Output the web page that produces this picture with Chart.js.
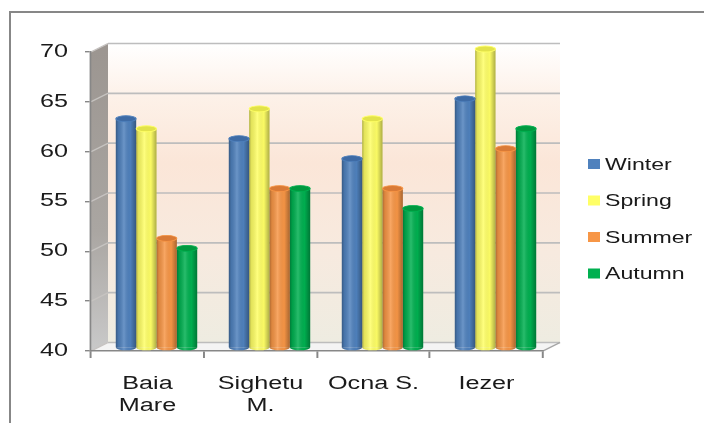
<!DOCTYPE html>
<html>
<head>
<meta charset="utf-8">
<script src="https://cdn.jsdelivr.net/npm/chart.js@4/dist/chart.umd.min.js"></script>
<style>
  html, body { margin: 0; padding: 0; background: #ffffff; overflow: hidden; }
  canvas { display: block; }
</style>
</head>
<body>
<canvas id="chart" width="704" height="423"></canvas>
<script>
// Seasonal values per station
const categories = [["Baia", "Mare"], ["Sighetu", "M."], "Ocna S.", "Iezer"];
const seriesNames = ["Winter", "Spring", "Summer", "Autumn"];
const winter = [63, 61, 59, 65];
const spring = [62, 64, 63, 70];
const summer = [51, 56, 56, 60];
const autumn = [50, 56, 54, 62];
const yMin = 40, yMax = 70, yStep = 5;

const seriesColors = ["#4f81bd", "#ffff66", "#f79646", "#00b050"];
const topColors = ["#3e6ba5", "#e2e24a", "#d97a36", "#00993f"];

// Drawing geometry (device pixels)
const SX = 1.4;                       // horizontal stretch of the drawing
const W = 704, H = 423;
const PLOT = { left: 91, right: 543, top: 52, bottom: 351 };
const DEPTH = { dx: 17, dy: -8.5 };   // back wall offset
const BAR_SHIFT = { dx: 9, dy: -3 };  // bars sit mid-depth
const FONT = "'Liberation Sans', Arial, sans-serif";

const scene = {
  id: "scene",
  beforeDraw(chart) {
    const ctx = chart.ctx;
    // outer frame
    ctx.save();
    ctx.setTransform(1, 0, 0, 1, 0, 0);
    ctx.strokeStyle = "#878787";
    ctx.lineWidth = 2;
    ctx.strokeRect(10, 12, 900, 600);
    ctx.restore();

    ctx.setTransform(SX, 0, 0, 1, 0, 0);
    const xs = chart.scales.x, ys = chart.scales.y;
    const L = xs.left, R = xs.right;
    const yT = ys.getPixelForValue(yMax), yB = ys.getPixelForValue(yMin);
    const dx = DEPTH.dx / SX, dy = DEPTH.dy;

    // back wall
    const g = ctx.createLinearGradient(0, yT + dy, 0, yB + dy);
    g.addColorStop(0, "#ffffff");
    g.addColorStop(0.18, "#fdf1e8");
    g.addColorStop(0.4, "#fbe6d8");
    g.addColorStop(0.7, "#f7eadf");
    g.addColorStop(1, "#eeece1");
    ctx.fillStyle = g;
    ctx.fillRect(L + dx, yT + dy, R - L, yB - yT);

    // side wall
    const sg = ctx.createLinearGradient(0, yT, 0, yB);
    sg.addColorStop(0, "#9c9691");
    sg.addColorStop(0.6, "#aaa6a2");
    sg.addColorStop(1, "#c9c9c9");
    ctx.fillStyle = sg;
    ctx.beginPath();
    ctx.moveTo(L, yT); ctx.lineTo(L + dx, yT + dy);
    ctx.lineTo(L + dx, yB + dy); ctx.lineTo(L, yB);
    ctx.closePath(); ctx.fill();

    // floor
    ctx.fillStyle = "#f4f4f4";
    ctx.beginPath();
    ctx.moveTo(L, yB); ctx.lineTo(L + dx, yB + dy);
    ctx.lineTo(R + dx, yB + dy); ctx.lineTo(R, yB);
    ctx.closePath(); ctx.fill();

    // gridlines on back and side walls
    for (let v = yMin; v <= yMax; v += yStep) {
      const y = ys.getPixelForValue(v);
      ctx.strokeStyle = "#bdbdbd";
      ctx.lineWidth = 1.6;
      ctx.beginPath();
      ctx.moveTo(L + dx, y + dy); ctx.lineTo(R + dx, y + dy);
      ctx.stroke();
      ctx.strokeStyle = "#c6c3c0";
      ctx.lineWidth = 1.2;
      ctx.beginPath();
      ctx.moveTo(L, y); ctx.lineTo(L + dx, y + dy);
      ctx.stroke();
    }
    // floor edges
    ctx.strokeStyle = "#a6a6a6";
    ctx.lineWidth = 1.4;
    ctx.beginPath();
    ctx.moveTo(R, yB); ctx.lineTo(R + dx, yB + dy);
    ctx.stroke();

    // legend
    ctx.font = "16.5px " + FONT;
    ctx.textBaseline = "middle";
    ctx.textAlign = "left";
    chart.data.datasets.forEach((ds, i) => {
      const cy = 164 + i * 36.5;
      ctx.fillStyle = ds.backgroundColor;
      ctx.fillRect(588 / SX, cy - 5, 12 / SX, 10);
      ctx.fillStyle = "#1a1a1a";
      ctx.fillText(ds.label, 605 / SX, cy + 1);
    });
  },
  beforeDatasetsDraw(chart) {
    chart.ctx.save();
    chart.ctx.translate(BAR_SHIFT.dx / SX, BAR_SHIFT.dy);
  },
  afterDatasetsDraw(chart) {
    const ctx = chart.ctx;
    const ry = 3;
    chart.data.datasets.forEach((ds, di) => {
      const meta = chart.getDatasetMeta(di);
      meta.data.forEach(bar => {
        const { x, y, base, width } = bar.getProps(["x", "y", "base", "width"], true);
        const l = x - width / 2, r = x + width / 2;
        // rounded foot
        ctx.fillStyle = ds.backgroundColor;
        ctx.beginPath();
        ctx.ellipse(x, base, width / 2, ry, 0, Math.PI, 0, true);
        ctx.closePath();
        ctx.fill();
        // cylinder shading
        const sh = ctx.createLinearGradient(l, 0, r, 0);
        sh.addColorStop(0, "rgba(0,0,0,0.30)");
        sh.addColorStop(0.12, "rgba(0,0,0,0.10)");
        sh.addColorStop(0.4, "rgba(255,255,255,0.16)");
        sh.addColorStop(0.72, "rgba(0,0,0,0.02)");
        sh.addColorStop(1, "rgba(0,0,0,0.32)");
        ctx.fillStyle = sh;
        ctx.beginPath();
        ctx.moveTo(l, y); ctx.lineTo(l, base);
        ctx.ellipse(x, base, width / 2, ry, 0, Math.PI, 0, true);
        ctx.lineTo(r, y);
        ctx.closePath();
        ctx.fill();
        // top cap
        ctx.beginPath();
        ctx.ellipse(x, y, width / 2, ry, 0, 0, Math.PI * 2);
        ctx.fillStyle = topColors[di];
        ctx.fill();
        ctx.strokeStyle = ds.backgroundColor;
        ctx.lineWidth = 0.8;
        ctx.stroke();
      });
    });
    ctx.restore();
  },
  afterDraw(chart) {
    chart.ctx.setTransform(1, 0, 0, 1, 0, 0);
  }
};

const values = [winter, spring, summer, autumn];
new Chart(document.getElementById("chart"), {
  type: "bar",
  data: {
    labels: categories,
    datasets: seriesNames.map((name, i) => ({
      label: name,
      data: values[i],
      base: yMin,
      backgroundColor: seriesColors[i],
      borderWidth: 0,
      categoryPercentage: 0.72,
      barPercentage: 1.0,
      clip: false
    }))
  },
  options: {
    responsive: false,
    animation: false,
    events: [],
    layout: { padding: { left: 0, top: PLOT.top, right: W - PLOT.right / SX, bottom: 0 } },
    plugins: { legend: { display: false }, tooltip: { enabled: false } },
    scales: {
      x: {
        type: "category",
        offset: true,
        grid: { display: true, drawOnChartArea: false, drawTicks: true, tickLength: 7, color: "#878787", offset: true, lineWidth: 1.4 },
        border: { display: true, color: "#878787", width: 1.4 },
        ticks: { font: { family: FONT, size: 18, lineHeight: 1.22 }, color: "#1a1a1a", padding: 15, maxRotation: 0, autoSkip: false },
        afterFit(scale) { scale.height = H - PLOT.bottom; }
      },
      y: {
        min: yMin, max: yMax,
        grid: { display: true, drawOnChartArea: false, drawTicks: true, tickLength: 6 / SX, color: "#878787", lineWidth: 1.4 },
        border: { display: true, color: "#878787", width: 1.2 },
        ticks: { stepSize: yStep, font: { family: FONT, size: 18 }, color: "#1a1a1a", padding: 17 / SX },
        afterFit(scale) { scale.width = PLOT.left / SX; }
      }
    }
  },
  plugins: [scene]
});
</script>
</body>
</html>
